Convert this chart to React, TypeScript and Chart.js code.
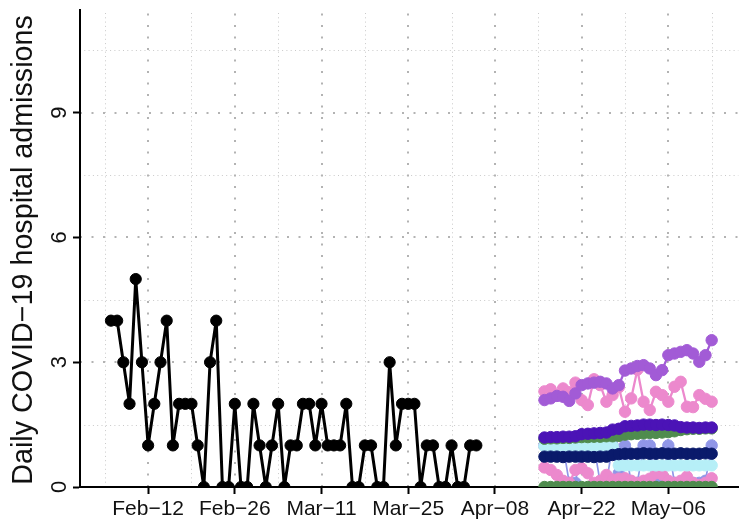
import React, { useEffect, useRef } from "react";
import { Chart, registerables } from "chart.js";

Chart.register(...registerables);

const FONT = "'Liberation Sans', Arial, Helvetica, sans-serif";

// Day offsets are counted from 2020-02-06
const observedStartDay = 0;
const forecastStartDay = 70;

// Observed daily admissions (Feb-06 .. Apr-05)
const observed = [
  4, 4, 3, 2, 5, 3, 1, 2, 3, 4, 1, 2, 2, 2, 1, 0, 3, 4, 0, 0, 2, 0, 0, 2, 1, 0, 1, 2, 0, 1, 1, 2,
  2, 1, 2, 1, 1, 1, 2, 0, 0, 1, 1, 0, 0, 3, 1, 2, 2, 2, 0, 1, 1, 0, 0, 1, 0, 0, 1, 1,
];

// Forecast series (Apr-16 .. May-13)
const purple = [2.09, 2.13, 2.19, 2.17, 2.07, 2.25, 2.45, 2.49, 2.51, 2.53, 2.49, 2.37, 2.45, 2.8, 2.85, 2.91, 2.93, 2.85, 2.69, 2.81, 3.17, 3.21, 3.25, 3.29, 3.21, 3.01, 3.17, 3.53];
const pinkHigh = [2.3, 2.35, 2.2, 2.37, 2.28, 2.51, 2.09, 1.97, 2.59, 2.45, 2.05, 2.21, 2.4, 1.81, 2.13, 2.82, 2.05, 1.85, 2.29, 2.21, 2.05, 2.41, 2.53, 1.93, 1.92, 2.21, 2.12, 2.05];
const indigo = [1.19, 1.2, 1.2, 1.21, 1.21, 1.22, 1.27, 1.28, 1.29, 1.3, 1.31, 1.38, 1.4, 1.46, 1.47, 1.48, 1.5, 1.5, 1.49, 1.5, 1.49, 1.48, 1.44, 1.43, 1.43, 1.42, 1.43, 1.43];
const greenMid = [1.16, 1.17, 1.17, 1.18, 1.18, 1.19, 1.2, 1.2, 1.21, 1.21, 1.22, 1.22, 1.23, 1.26, 1.27, 1.28, 1.29, 1.3, 1.3, 1.31, 1.32, 1.34, 1.37, 1.39, 1.4, 1.4, 1.41, 1.41];
const navy = [0.73, 0.73, 0.73, 0.72, 0.73, 0.73, 0.73, 0.73, 0.72, 0.73, 0.73, 0.77, 0.79, 0.8, 0.8, 0.8, 0.81, 0.8, 0.8, 0.81, 0.8, 0.8, 0.81, 0.8, 0.8, 0.8, 0.81, 0.8];
const lightBlue = [0.98, 0.98, 0.98, 0.98, 0.98, 0.98, 0.98, 0.98, 0.98, 0.98, 0.98, 0.98, 0.52, 0.52, 0.52, 0.52, 0.52, 0.52, 0.52, 0.52, 0.52, 0.52, 0.52, 0.52, 0.52, 0.52, 0.52, 0.52];
const periwinkle = [1.0, 1.0, 1.0, 1.0, 0.1, 0.1, 1.0, 1.0, 1.0, 0.1, 0.1, 1.0, 0.33, 1.0, 0.1, 0.1, 1.0, 1.0, 0.1, 0.1, 1.0, 0.1, 0.1, 0.15, 0.1, 0.1, 0.15, 1.0];
const pinkLow = [0.47, 0.41, 0.29, 0.15, 0.1, 0.41, 0.45, 0.33, 0.1, 0.15, 0.29, 0.18, 0.2, 0.21, 0.15, 0.1, 0.15, 0.2, 0.33, 0.3, 0.15, 0.1, 0.15, 0.25, 0.1, 0.05, 0.1, 0.21];
const greenLow = [0, 0, 0, 0, 0, 0, 0, 0, 0, 0, 0, 0, 0, 0, 0, 0, 0, 0, 0, 0, 0, 0, 0, 0, 0, 0, 0, 0];

// Axes
const xTickDays = [6, 20, 34, 48, 62, 76, 90];
const xTickLabels = ["Feb\u221212", "Feb\u221226", "Mar\u221211", "Mar\u221225", "Apr\u221208", "Apr\u221222", "May\u221206"];
const xMinorDays = [-1, 13, 27, 41, 55, 69, 83, 97];
const yTicks = [0, 3, 6, 9];
const yTickLabels = ["0", "3", "6", "9"];
const yMinor = [1.5, 4.5, 7.5, 10.5];
const yTitle = "Daily COVID\u221219 hospital admissions";

const toPoints = (vals: number[], start: number) => vals.map((v, i) => ({ x: start + i, y: v }));

const series = (label: string, vals: number[], start: number, color: string, lw: number, r: number) => ({
  label,
  data: toPoints(vals, start),
  borderColor: color,
  backgroundColor: color,
  pointBackgroundColor: color,
  pointBorderColor: color,
  pointBorderWidth: 1,
  borderWidth: lw,
  borderJoinStyle: "round",
  borderCapStyle: "round",
  pointRadius: r,
  tension: 0,
});

const ggPlugin = {
  id: "ggDecor",
  beforeDatasetsDraw(chart: any) {
    const { ctx, chartArea: a, scales } = chart;
    const x = scales.x;
    const y = scales.y;
    ctx.save();
    ctx.beginPath();
    ctx.rect(a.left + 1, a.top, a.right - a.left, a.bottom - a.top - 1);
    ctx.clip();
    // minor grid
    ctx.strokeStyle = "#c9c9c9";
    ctx.lineWidth = 1;
    ctx.setLineDash([1, 3.3]);
    for (const v of yMinor) {
      const p = Math.round(y.getPixelForValue(v)) + 0.5;
      ctx.beginPath();
      ctx.moveTo(a.left, p);
      ctx.lineTo(a.right, p);
      ctx.stroke();
    }
    for (const v of xMinorDays) {
      const p = Math.round(x.getPixelForValue(v)) + 0.5;
      ctx.beginPath();
      ctx.moveTo(p, a.bottom);
      ctx.lineTo(p, a.top);
      ctx.stroke();
    }
    // major grid
    ctx.strokeStyle = "#b3b3b3";
    ctx.lineWidth = 2;
    ctx.setLineDash([2, 9.5]);
    for (const v of yTicks) {
      if (v === 0) continue;
      const p = Math.round(y.getPixelForValue(v));
      ctx.beginPath();
      ctx.moveTo(a.left, p);
      ctx.lineTo(a.right, p);
      ctx.stroke();
    }
    for (const v of xTickDays) {
      const p = Math.round(x.getPixelForValue(v));
      ctx.beginPath();
      ctx.moveTo(p, a.bottom);
      ctx.lineTo(p, a.top);
      ctx.stroke();
    }
    ctx.restore();
  },
  afterDraw(chart: any) {
    const { ctx, chartArea: a, scales } = chart;
    const y = scales.y;
    ctx.save();
    ctx.fillStyle = "#111";
    ctx.font = `22px ${FONT}`;
    ctx.textAlign = "center";
    ctx.textBaseline = "alphabetic";
    yTicks.forEach((v, i) => {
      const p = y.getPixelForValue(v);
      ctx.save();
      ctx.translate(65.5, p);
      ctx.rotate(-Math.PI / 2);
      ctx.fillText(yTickLabels[i], 0, 0);
      ctx.restore();
    });
    ctx.font = `28.7px ${FONT}`;
    ctx.translate(32, (a.top + a.bottom) / 2 + 1.5);
    ctx.rotate(-Math.PI / 2);
    ctx.fillText(yTitle, 0, 0);
    ctx.restore();
  },
};

export default function App() {
  const ref = useRef<HTMLCanvasElement | null>(null);
  useEffect(() => {
    if (!ref.current) return;
    const chart = new Chart(ref.current, {
      type: "line",
      data: {
        datasets: [
          series("observed", observed, observedStartDay, "#000000", 3, 5.6),
          series("purple", purple, forecastStartDay, "#A25BD6", 2.3, 5.7),
          series("pinkHigh", pinkHigh, forecastStartDay, "#EC89CD", 2.3, 5.7),
          series("indigo", indigo, forecastStartDay, "#4B13B6", 2.3, 5.7),
          series("greenMid", greenMid, forecastStartDay, "#4F8C4E", 2.3, 5.7),
          series("navy", navy, forecastStartDay, "#0A1A6B", 2.3, 5.7),
          series("lightBlue", lightBlue, forecastStartDay, "#B6EFF7", 2.3, 5.7),
          series("greenLow", greenLow, forecastStartDay, "#4F8C4E", 2.3, 5.7),
          series("pinkLow", pinkLow, forecastStartDay, "#EC89CD", 2.3, 5.7),
          series("periwinkle", periwinkle, forecastStartDay, "#9096E8", 1.7, 5.7),
        ],
      },
      options: {
        animation: false,
        responsive: false,
        events: [],
        layout: { padding: { top: 10, left: 0, right: 0, bottom: 0 } },
        plugins: { legend: { display: false }, tooltip: { enabled: false } },
        scales: {
          x: {
            type: "linear",
            min: -5,
            max: 101.3,
            afterBuildTicks: (s: any) => {
              s.ticks = xTickDays.map((v) => ({ value: v }));
            },
            afterFit: (s: any) => {
              s.height = 32;
            },
            ticks: {
              autoSkip: false,
              maxRotation: 0,
              minRotation: 0,
              padding: 3,
              color: "#111",
              font: { family: FONT, size: 21 },
              callback: (v: any) => {
                const i = xTickDays.indexOf(Number(v));
                return i >= 0 ? xTickLabels[i] : "";
              },
            },
            grid: { drawOnChartArea: false, drawTicks: true, tickLength: 7, tickWidth: 2, tickColor: "#000", color: "#000" },
            border: { display: true, color: "#000", width: 2 },
          },
          y: {
            type: "linear",
            min: 0,
            max: 11.47,
            afterBuildTicks: (s: any) => {
              s.ticks = yTicks.map((v) => ({ value: v }));
            },
            afterFit: (s: any) => {
              s.width = 80;
            },
            ticks: { display: false },
            grid: { drawOnChartArea: false, drawTicks: true, tickLength: 7, tickWidth: 2, tickColor: "#000", color: "#000" },
            border: { display: true, color: "#000", width: 2 },
          },
        },
      },
      plugins: [ggPlugin],
    } as any);
    return () => chart.destroy();
  }, []);
  return (
    <div style={{ position: "absolute", left: 0, top: 0, width: 745, height: 519, background: "#fff" }}>
      <canvas ref={ref} width={745} height={519} style={{ display: "block", width: 745, height: 519 }} />
    </div>
  );
}
